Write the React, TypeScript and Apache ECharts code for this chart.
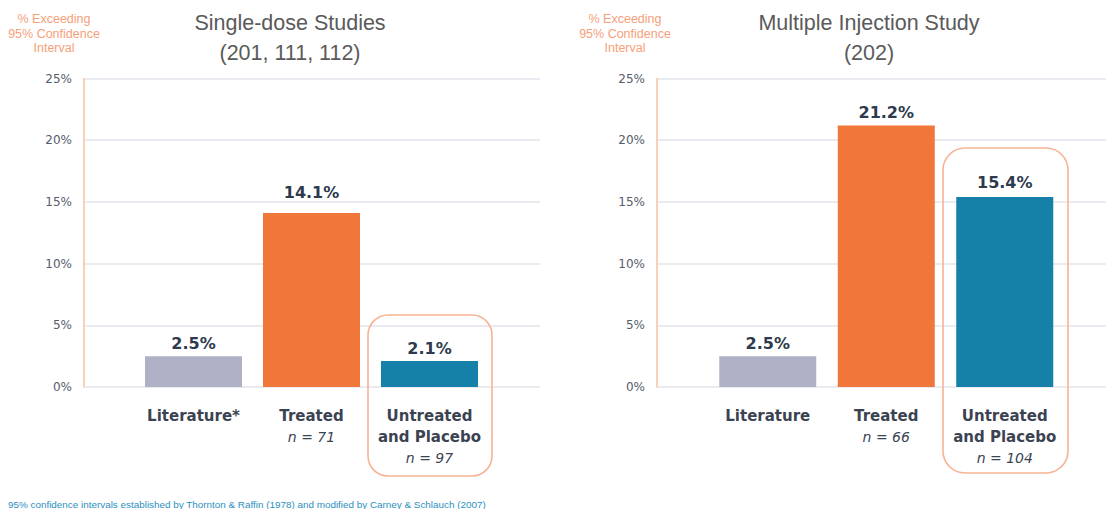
import React, { useEffect, useRef } from "react";
import * as echarts from "echarts";

const leftCategories = ["Literature*", "Treated", "Untreated\nand Placebo"];
const leftValues = [2.5, 14.1, 2.1];
const leftN = ["", "n = 71", "n = 97"];
const rightCategories = ["Literature", "Treated", "Untreated\nand Placebo"];
const rightValues = [2.5, 21.2, 15.4];
const rightN = ["", "n = 66", "n = 104"];
const barColors = ["#afb2c7", "#f0763a", "#1581a8"];
const yMin = 0;
const yMax = 25;
const yInterval = 5;
const leftTitle = "Single-dose Studies\n(201, 111, 112)";
const rightTitle = "Multiple Injection Study\n(202)";
const axisCaption = "% Exceeding\n95% Confidence\nInterval";
const footnote =
  "95% confidence intervals established by Thornton & Raffin (1978) and modified by Carney & Schlauch (2007)";

const GRID_TOP = 78.5;
const GRID_H = 308.5;
const SANS = "Liberation Sans, Arial, sans-serif";
const DJV = "DejaVu Sans, sans-serif";

function catLabel(names: string[], ns: string[]) {
  return (value: string, index: number) => {
    const parts = value.split("\n").map((s) => `{b|${s}}`);
    if (ns[index]) parts.push(`{i|${ns[index]}}`);
    return parts.join("\n");
  };
}

function buildPanel(
  idx: number,
  axisLeft: number,
  axisWidth: number,
  barLeft: number,
  barWidthTotal: number,
  cats: string[],
  vals: number[],
  ns: string[],
  distances: number[]
) {
  const base = idx * 2;
  const grids = [
    { left: axisLeft, top: GRID_TOP, width: axisWidth, height: GRID_H },
    { left: barLeft, top: GRID_TOP, width: barWidthTotal, height: GRID_H },
  ];
  const xAxes = [
    { gridIndex: base, type: "category", data: [], show: false },
    {
      gridIndex: base + 1,
      type: "category",
      data: cats,
      axisLine: { show: false },
      axisTick: { show: false },
      axisLabel: {
        interval: 0,
        margin: 18.5,
        formatter: catLabel(cats, ns),
        rich: {
          b: {
            fontFamily: DJV,
            fontWeight: "bold",
            fontSize: 15,
            color: "#3b4352",
            lineHeight: 21,
            align: "center",
          },
          i: {
            fontFamily: DJV,
            fontStyle: "italic",
            fontSize: 14,
            color: "#3b4352",
            lineHeight: 21,
            align: "center",
          },
        },
      },
    },
  ];
  const yAxes = [
    {
      gridIndex: base,
      type: "value",
      min: yMin,
      max: yMax,
      interval: yInterval,
      axisLine: { show: true, lineStyle: { color: "#f9c1a2", width: 1.5 } },
      axisTick: { show: false },
      axisLabel: {
        formatter: "{value}%",
        fontFamily: DJV,
        fontSize: 12,
        color: "#555c6c",
        margin: 12,
      },
      splitLine: { lineStyle: { color: "#e3e5ed", width: 1.5 } },
    },
    {
      gridIndex: base + 1,
      type: "value",
      min: yMin,
      max: yMax,
      interval: yInterval,
      show: false,
      splitLine: { show: false },
    },
  ];
  const series = [
    {
      type: "bar",
      xAxisIndex: base + 1,
      yAxisIndex: base + 1,
      barWidth: 97,
      data: vals.map((v, i) => ({
        value: v,
        itemStyle: { color: barColors[i] },
        label: { distance: distances[i] },
      })),
      label: {
        show: true,
        position: "top",
        formatter: "{c}%",
        fontFamily: DJV,
        fontWeight: "bold",
        fontSize: 16,
        color: "#2e3a4d",
        backgroundColor: "#ffffff",
        padding: [1, 4],
      },
    },
  ];
  return { grids, xAxes, yAxes, series };
}

export default function App() {
  const ref = useRef<HTMLDivElement>(null);
  useEffect(() => {
    if (!ref.current) return;
    const chart = echarts.init(ref.current, undefined, { renderer: "svg" });
    const L = buildPanel(0, 84, 456, 134.5, 354, leftCategories, leftValues, leftN, [4, 12, 4]);
    const R = buildPanel(1, 657, 449, 708.5, 355.5, rightCategories, rightValues, rightN, [4, 4, 5]);
    const titleStyle = {
      fontFamily: SANS,
      fontSize: 21.5,
      fill: "#5a5a5a",
      align: "center",
      verticalAlign: "top",
      lineHeight: 30,
    };
    const capStyle = {
      fontFamily: SANS,
      fontSize: 12.5,
      fill: "#f5a07a",
      align: "center",
      verticalAlign: "top",
      lineHeight: 14.5,
    };
    chart.setOption({
      animation: false,
      backgroundColor: "#ffffff",
      grid: [...L.grids, ...R.grids],
      xAxis: [...L.xAxes, ...R.xAxes],
      yAxis: [...L.yAxes, ...R.yAxes],
      series: [...L.series, ...R.series],
      graphic: [
        { type: "text", x: 290, y: 8, style: { ...titleStyle, text: leftTitle } },
        { type: "text", x: 869, y: 8, style: { ...titleStyle, text: rightTitle } },
        { type: "text", x: 54, y: 12, style: { ...capStyle, text: axisCaption } },
        { type: "text", x: 625, y: 12, style: { ...capStyle, text: axisCaption } },
        {
          type: "rect",
          z: 10,
          shape: { x: 368, y: 315, width: 124, height: 161, r: 20 },
          style: { fill: "none", stroke: "#f6b394", lineWidth: 1.6 },
        },
        {
          type: "rect",
          z: 10,
          shape: { x: 943, y: 148, width: 125, height: 325, r: 22 },
          style: { fill: "none", stroke: "#f6b394", lineWidth: 1.6 },
        },
        {
          type: "text",
          x: 8,
          y: 504,
          style: {
            text: footnote,
            fontFamily: SANS,
            fontSize: 9.9,
            fill: "#2b8fc0",
            align: "left",
            verticalAlign: "middle",
          },
        },
      ],
    });
    return () => chart.dispose();
  }, []);
  return (
    <div
      ref={ref}
      style={{ position: "absolute", left: 0, top: 0, width: 1106, height: 509, background: "#fff" }}
    />
  );
}
